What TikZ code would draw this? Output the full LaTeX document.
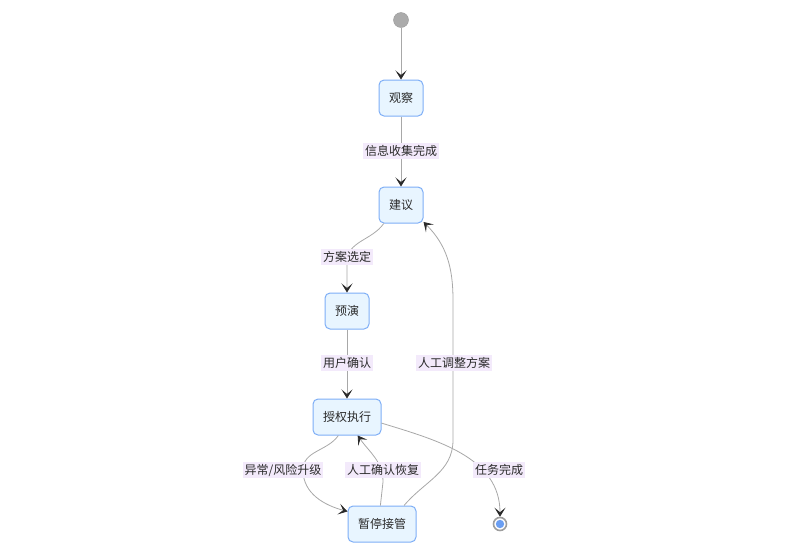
\documentclass[tikz,border=0pt]{standalone}
\usepackage{fontspec}
\setmainfont{Noto Sans CJK SC}
\usepackage{tikz}
\usetikzlibrary{arrows.meta}
\definecolor{boxfill}{HTML}{E8F5FF}
\definecolor{boxline}{HTML}{7EAEF6}
\definecolor{lblfill}{HTML}{F3EAFB}
\definecolor{edgegray}{HTML}{A8A8A8}
\definecolor{tipdark}{HTML}{2A2A2A}
\definecolor{enddot}{HTML}{6A9EF2}
\begin{document}
\begin{tikzpicture}[x=1pt,y=-1pt,
    state/.style={draw=boxline,fill=boxfill,line width=1pt,rounded corners=5pt,
      minimum width=42pt,minimum height=36pt,inner xsep=10pt,font=\fontsize{12}{14}\selectfont,text=tipdark},
    lbl/.style={fill=lblfill,inner sep=2pt,font=\fontsize{12}{14}\selectfont,text=tipdark},
    edge/.style={draw=edgegray,line width=0.8pt,
      -{Stealth[length=9pt,width=11pt,inset=4.5pt,color=tipdark,fill=tipdark]}}]
  \useasboundingbox (0,0) rectangle (796,550);
  \node[circle,fill=black!33,draw=black!40,minimum size=15pt,inner sep=0pt] (start) at (401,20) {};
  \node[state] (guancha) at (401,98) {观察};
  \node[state] (jianyi) at (401,205) {建议};
  \node[state] (yuyan) at (347,311) {预演};
  \node[state] (shouquan) at (347,417) {授权执行};
  \node[state] (zanting) at (382,524) {暂停接管};
  \node[circle,draw=black!38,line width=1.6pt,fill=white,minimum size=13pt,inner sep=0pt] (stop) at (500,524) {};
  \fill[enddot] (stop.center) circle (4.2pt);
  \draw[edge] (start) -- (guancha);
  \draw[edge] (guancha) -- (jianyi);
  \draw[edge] (jianyi.-133) to[out=-125,in=90] (347,262) -- (yuyan);
  \draw[edge] (yuyan) -- (shouquan);
  \draw[edge] (shouquan.-115) to[out=-125,in=90] (303,470) to[out=-90,in=165] (zanting.160);
  \draw[edge] (zanting.95) -- (383,482) to[out=90,in=-55] (shouquan.-60);
  \draw[edge] (zanting.40) to[out=50,in=-90] (453,440) -- (453,300) to[out=90,in=-45] (jianyi.-37);
  \draw[edge] (shouquan.-10) to[out=-17,in=90] (stop);
  \node[lbl] (l1) at (401,151) {信息收集完成};
  \node[lbl] (l2) at (347,257) {方案选定};
  \node[lbl] (l3) at (347,363) {用户确认};
  \node[lbl] (l4) at (283,470) {异常/风险升级};
  \node[lbl] (l5) at (383,470) {人工确认恢复};
  \node[lbl] (l6) at (454,363) {人工调整方案};
  \node[lbl] (l7) at (499,470) {任务完成};
\end{tikzpicture}
\end{document}
